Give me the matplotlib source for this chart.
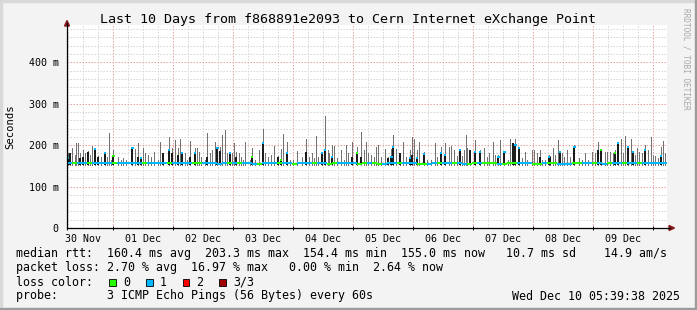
import matplotlib
matplotlib.use("Agg")
import matplotlib.pyplot as plt
from matplotlib.patches import Rectangle, Polygon
from matplotlib.lines import Line2D

W, H = 697, 310
MONO = "DejaVu Sans Mono"

title = "Last 10 Days from f868891e2093 to Cern Internet eXchange Point"
day_labels = ["30 Nov", "01 Dec", "02 Dec", "03 Dec", "04 Dec",
              "05 Dec", "06 Dec", "07 Dec", "08 Dec", "09 Dec"]
y_ticks = [0, 100, 200, 300, 400]
y_tick_labels = ["0", "100 m", "200 m", "300 m", "400 m"]

# window starts Mon 30 Nov 05:39:38, spans 240 hours
start_hour_of_day = 5 + 39 / 60 + 38 / 3600
span_hours = 240

# median rtt baseline, 2-hour steps (ms) and lost pings per step
step_hours = 2
base_median = [
    157, 157, 156, 157, 157, 156, 156, 157, 157, 156, 156, 157,
    156, 157, 157, 156, 156, 157, 156, 156, 157, 157, 156, 156,
    156, 156, 157, 157, 156, 156, 155, 156, 156, 157, 156, 156,
    156, 155, 155, 156, 156, 156, 157, 156, 156, 155, 156, 156,
    156, 157, 156, 156, 155, 156, 157, 156, 156, 156, 155, 156,
    156, 156, 155, 155, 156, 156, 156, 157, 156, 156, 155, 155,
    155, 156, 156, 156, 157, 156, 156, 155, 155, 156, 156, 156,
    156, 156, 155, 155, 156, 156, 157, 157, 156, 155, 155, 156,
    156, 156, 155, 155, 155, 156, 156, 157, 156, 156, 156, 155,
    156, 156, 157, 156, 156, 157, 157, 156, 156, 156, 157, 157,
]
base_loss = [
    1, 0, 1, 1, 0, 1, 1, 1, 1, 0, 1, 1,
    1, 1, 1, 0, 1, 1, 1, 1, 0, 1, 1, 1,
    1, 0, 0, 1, 1, 1, 1, 1, 0, 1, 0, 1,
    1, 1, 0, 1, 1, 1, 0, 1, 1, 0, 1, 1,
    1, 0, 1, 1, 0, 0, 1, 1, 1, 1, 0, 0,
    1, 0, 0, 1, 1, 1, 0, 1, 1, 1, 0, 0,
    1, 1, 0, 1, 1, 0, 1, 1, 0, 0, 1, 0,
    0, 0, 1, 0, 0, 0, 1, 1, 1, 0, 0, 1,
    0, 0, 1, 1, 1, 0, 0, 1, 1, 0, 1, 1,
    0, 1, 1, 0, 1, 1, 0, 1, 1, 1, 1, 1,
]
base_floor = 153  # lowest ping of the smoke

# smoke spikes: hour offset, max ping (ms), upper dark edge (0 = none), loss of median marker (-1 = none)
spike_hour = [
    0.4, 1.3, 2.1, 3.2, 3.7, 4.5, 5.2, 6.4, 7.2, 8.3, 9.2, 10.1, 11.2, 12.3, 13.6, 15.2, 15.9, 16.8,
    17.5, 18.5, 20.5, 21.6, 22.5, 23.5, 26.1, 27.2, 28.5, 29.6, 30.5, 31.2, 32.5, 33.6, 34.9, 36.3, 37.2, 38.3,
    40.8, 42.0, 43.1, 44.4, 45.1, 46.0, 47.3, 48.1, 49.3, 51.1, 52.1, 52.8, 53.7, 55.1, 56.0, 57.1, 58.0, 59.1,
    60.1, 61.3, 62.1, 63.2, 64.1, 65.1, 66.0, 66.8, 67.7, 68.7, 69.5, 70.4, 71.3, 73.1, 74.0, 75.3, 76.7, 78.3,
    79.3, 80.4, 81.7,
    82.7, 84.3, 85.6, 86.5, 87.9, 89.3, 90.3, 92.0, 94.0, 95.7, 96.9, 97.9, 98.7, 99.6, 100.5, 101.9, 103.2,
    104.3, 104.9, 105.9, 106.9, 108.0, 109.6, 110.7, 111.6, 112.5, 113.9, 116.0, 117.6, 118.7, 119.6, 120.5,
    121.6, 122.9,
    123.5, 124.4, 125.5, 127.1, 128.4, 129.7, 130.4, 131.5, 133.2, 134.5, 135.5, 137.2, 138.1, 138.8, 139.9,
    140.8, 142.8, 144.1, 145.5, 147.3, 148.1, 149.5, 151.1, 152.8, 153.7, 154.8, 155.9, 157.1, 158.1, 158.8,
    159.5, 160.1, 161.1, 163.1,
    165.1, 166.9, 168.0, 168.7, 170.4, 171.3, 172.5, 173.3, 174.9, 176.3, 177.3, 178.3, 179.3, 180.7, 182.0,
    183.3, 184.0, 186.0, 186.9, 188.0, 189.1, 190.0, 191.3, 192.7, 193.3, 194.4, 195.3, 196.3, 197.1, 198.0,
    198.9, 200.0, 201.1, 202.9, 204.7,
    205.9, 207.2, 208.5, 209.9, 211.2, 212.5, 213.5, 215.2, 216.1, 217.2, 218.3, 219.2, 220.4, 221.5, 222.3,
    223.2, 224.4, 225.5, 226.3, 227.2, 227.9, 228.9, 229.9, 231.2, 232.5, 233.6, 234.3, 235.2, 236.5, 237.5,
    238.5, 239.3,
]
spike_max = [
    180, 181, 192, 176, 206, 206, 180, 188, 180, 185, 176, 198, 191, 173, 172, 181, 172, 230,
    165, 188, 172, 164, 168, 165, 195, 190, 204, 169, 192, 181, 177, 172, 184, 165, 208, 181,
    220, 192, 212, 192, 214, 181, 180, 164, 210, 192, 192, 184, 172, 165, 230, 180, 188, 208,
    195, 196, 224, 236, 181, 182, 180, 204, 184, 181, 172, 165, 208, 164, 192, 165, 188, 240,
    181, 172, 176,
    198, 173, 190, 228, 208, 164, 165, 186, 172, 214, 172, 180, 168, 222, 172, 184, 270,
    188, 180, 200, 198, 168, 188, 164, 200, 180, 208, 196, 232, 188, 208, 180,
    176, 172,
    196, 200, 172, 190, 172, 190, 224, 190, 181, 208, 172, 188, 220, 216, 188,
    208, 184, 164, 164, 205, 172, 196, 204, 196, 198, 188, 173, 189, 173, 188,
    224, 192, 189, 212,
    188, 192, 172, 180, 208, 176, 176, 212, 185, 165, 216, 205, 214, 193, 168,
    184, 165, 188, 188, 181, 188, 164, 165, 176, 173, 192, 176, 212, 185, 181,
    172, 188, 172, 200, 168,
    164, 182, 165, 184, 180, 208, 189, 184, 184, 184, 180, 188, 205, 214, 180,
    222, 198, 216, 185, 176, 192, 184, 180, 200, 188, 220, 176, 173, 168, 196,
    210, 180,
]
spike_dark = [
    168, 180, 0, 0, 0, 0, 168, 172, 0, 184, 0, 0, 190, 172, 0, 180, 0, 0,
    0, 173, 0, 0, 0, 0, 194, 0, 172, 168, 0, 0, 0, 0, 0, 0, 0, 180,
    188, 180, 0, 176, 0, 180, 0, 0, 172, 181, 0, 0, 0, 0, 172, 0, 0, 0,
    194, 186, 0, 0, 0, 181, 0, 0, 172, 0, 0, 0, 0, 0, 172, 0, 0, 204,
    0, 0, 0,
    0, 172, 164, 0, 180, 0, 0, 0, 0, 184, 0, 0, 0, 0, 0, 180, 188,
    0, 0, 172, 0, 0, 0, 0, 0, 0, 172, 180, 172, 0, 0, 0,
    0, 0,
    0, 0, 0, 0, 168, 172, 196, 0, 180, 0, 0, 168, 176, 0, 168,
    0, 178, 0, 0, 0, 0, 180, 176, 0, 0, 0, 0, 188, 0, 0,
    0, 0, 188, 184,
    184, 0, 0, 0, 0, 0, 172, 0, 184, 0, 0, 204, 200, 192, 0,
    0, 0, 0, 0, 0, 172, 0, 0, 172, 172, 0, 0, 0, 184, 0,
    0, 0, 0, 196, 0,
    0, 0, 0, 0, 0, 188, 188, 0, 0, 0, 0, 180, 204, 0, 0,
    0, 196, 0, 184, 0, 0, 0, 0, 188, 0, 0, 0, 0, 0, 173,
    0, 0,
]
spike_loss = [
    1, -1, -1, -1, -1, -1, -1, -1, -1, -1, -1, -1, 1, -1, -1, 1, -1, -1,
    -1, 0, -1, -1, -1, -1, 1, -1, -1, 1, -1, -1, -1, -1, -1, -1, -1, -1,
    1, -1, -1, -1, -1, 1, -1, -1, -1, 1, -1, -1, -1, -1, -1, -1, -1, -1,
    1, -1, -1, -1, -1, 1, -1, -1, -1, -1, -1, -1, -1, -1, 0, -1, -1, 1,
    -1, -1, -1,
    -1, -1, 0, -1, 1, -1, -1, -1, -1, -1, -1, -1, -1, -1, -1, 1, 1,
    -1, -1, 1, -1, -1, -1, -1, -1, -1, -1, 0, -1, -1, -1, -1,
    -1, -1,
    -1, -1, -1, -1, -1, 1, 1, -1, -1, -1, -1, 1, -1, -1, 1,
    -1, 1, -1, -1, -1, -1, 1, 1, -1, -1, -1, -1, 1, -1, -1,
    -1, -1, -1, 1,
    1, -1, -1, 0, -1, -1, 1, -1, 1, -1, -1, -1, 1, 1, -1,
    -1, -1, -1, -1, -1, -1, -1, -1, 1, -1, -1, -1, -1, 1, -1,
    -1, -1, -1, 1, -1,
    -1, -1, -1, -1, -1, -1, 0, -1, -1, -1, -1, 0, 1, -1, -1,
    -1, 1, -1, 1, -1, -1, -1, -1, 1, -1, -1, -1, -1, -1, 1,
    -1, -1,
]

loss_colors = ["#26ff00", "#00b8ff", "#ff0000", "#a00000"]
loss_names = ["0", "1", "2", "3/3"]

legend_rtt = ("median rtt:  160.4 ms avg  203.3 ms max  154.4 ms min  "
              "155.0 ms now   10.7 ms sd    14.9 am/s")
legend_loss = "packet loss: 2.70 % avg  16.97 % max   0.00 % min  2.64 % now"
legend_probe = "probe:       3 ICMP Echo Pings (56 Bytes) every 60s"
stamp = "Wed Dec 10 05:39:38 2025"

BG = "#f3f3f3"
GRID = "#d6d6d6"
MGRID = "#eaa6a6"
SMOKE = "#727272"
SMOKE_DARK = "#1c1c1c"
ARROW = "#8b1a1a"

PX = 0.72  # one pixel in points at 100 dpi


def fx(x):
    return x / W


def fy(y):
    return 1 - y / H


fig = plt.figure(figsize=(W / 100, H / 100), dpi=100, facecolor=BG)

# plot area: x 67..667 px, y 25..228 px
ymax = 490
ax = fig.add_axes([fx(67), fy(228), 600 / W, (228 - 25) / H])
ax.set_facecolor("white")
ax.set_xlim(0, span_hours)
ax.set_ylim(0, ymax)
for s in ax.spines.values():
    s.set_visible(False)

# grid
first_6h = (6 - start_hour_of_day % 6) % 6
first_midnight = 24 - start_hour_of_day
minor_x = []
t = first_6h
while t < span_hours:
    minor_x.append(t)
    t += 6
major_x = []
t = first_midnight
while t < span_hours:
    major_x.append(t)
    t += 24
dot = (0, (1.5, 1.5))
ax.vlines([v for v in minor_x if all(abs(v - m) > 0.1 for m in major_x)], 0, ymax,
          colors=GRID, linewidth=PX, linestyles=dot, zorder=1)
ax.hlines([v for v in range(20, ymax, 20) if v % 100], 0, span_hours,
          colors=GRID, linewidth=PX, linestyles=dot, zorder=1)
ax.vlines(major_x, 0, ymax, colors=MGRID, linewidth=PX, linestyles=dot, zorder=1.1)
ax.hlines([v for v in y_ticks if v > 0], 0, span_hours, colors=MGRID,
          linewidth=PX, linestyles=dot, zorder=1.1)

# smoke spikes
for h, mx, dk in zip(spike_hour, spike_max, spike_dark):
    ax.vlines(h, base_floor, mx, colors=SMOKE, linewidth=PX, zorder=2, antialiased=False)
    if dk:
        ax.vlines(h, base_floor, dk, colors=SMOKE_DARK, linewidth=2 * PX, zorder=2.2,
                  antialiased=False)

# median baseline coloured by loss
for i, (m, l) in enumerate(zip(base_median, base_loss)):
    ax.hlines(m, i * step_hours, (i + 1) * step_hours, colors=loss_colors[l],
              linewidth=2 * PX, zorder=3, antialiased=False)
for h, dk, l in zip(spike_hour, spike_dark, spike_loss):
    if l >= 0 and dk:
        ax.hlines(dk, h - 0.5, h + 0.5, colors=loss_colors[l], linewidth=2 * PX, zorder=3.2,
                  antialiased=False)

# ticks
noon = [12 - start_hour_of_day + 24 * i for i in range(len(day_labels))]
ax.set_xticks(noon)
ax.set_xticklabels(day_labels, fontfamily=MONO, fontsize=7.2)
ax.tick_params(axis="x", length=0, pad=4.5)
ax.set_xticks(major_x + [0], minor=True)
ax.tick_params(axis="x", which="minor", length=3, direction="inout", width=0.7)
ax.set_yticks(y_ticks)
ax.set_yticklabels(y_tick_labels, fontfamily=MONO, fontsize=7.2)
ax.tick_params(axis="y", length=0, pad=6)

# axes lines and arrows (figure pixels)
fig.add_artist(Line2D([fx(67), fx(670)], [fy(228), fy(228)], color="black", linewidth=0.9))
fig.add_artist(Line2D([fx(67), fx(67)], [fy(228), fy(23)], color="black", linewidth=0.9))
fig.add_artist(Polygon([(fx(64.5), fy(26)), (fx(69.5), fy(26)), (fx(67), fy(20.5))],
                       closed=True, color=ARROW, transform=fig.transFigure))
fig.add_artist(Polygon([(fx(669), fy(225.5)), (fx(669), fy(230.5)), (fx(674.5), fy(228))],
                       closed=True, color=ARROW, transform=fig.transFigure))

# texts
fig.text(fx(348), fy(19), title, ha="center", va="center", fontfamily=MONO, fontsize=9.6)
fig.text(fx(10), fy(127), "Seconds", ha="center", va="center", rotation=90,
         fontfamily=MONO, fontsize=7.6)
fig.text(fx(686), fy(59), "RRDTOOL / TOBI OETIKER", ha="center", va="center",
         rotation=270, fontfamily=MONO, fontsize=5.6, color="#a8a8a8")

LF = 8.4
fig.text(fx(16), fy(254), legend_rtt, ha="left", va="center", fontfamily=MONO, fontsize=LF)
fig.text(fx(16), fy(268), legend_loss, ha="left", va="center", fontfamily=MONO, fontsize=LF)
fig.text(fx(16), fy(282), "loss color:", ha="left", va="center", fontfamily=MONO, fontsize=LF)
box_x = [109, 146, 182.5, 219]
for bx, c, name in zip(box_x, loss_colors, loss_names):
    fig.add_artist(Rectangle((fx(bx), fy(285.5)), 6.5 / W, 6.5 / H, facecolor=c,
                             edgecolor="black", linewidth=0.6, transform=fig.transFigure))
    fig.text(fx(bx + 14), fy(282), name, ha="left", va="center", fontfamily=MONO, fontsize=LF)
fig.text(fx(16), fy(296), legend_probe, ha="left", va="center", fontfamily=MONO, fontsize=LF)
fig.text(fx(680), fy(296), stamp, ha="right", va="center", fontfamily=MONO, fontsize=LF)

# 3D frame
fig.add_artist(Rectangle((0, 1 - 2 / H), 1, 2 / H, color="#d9d9d9", transform=fig.transFigure))
fig.add_artist(Rectangle((0, 0), 2 / W, 1, color="#d9d9d9", transform=fig.transFigure))
fig.add_artist(Rectangle((0, 0), 1, 2.5 / H, color="#9c9c9c", transform=fig.transFigure))
fig.add_artist(Rectangle((1 - 2.5 / W, 0), 2.5 / W, 1, color="#9c9c9c", transform=fig.transFigure))

fig.savefig("out.png", dpi=100, facecolor=BG)
